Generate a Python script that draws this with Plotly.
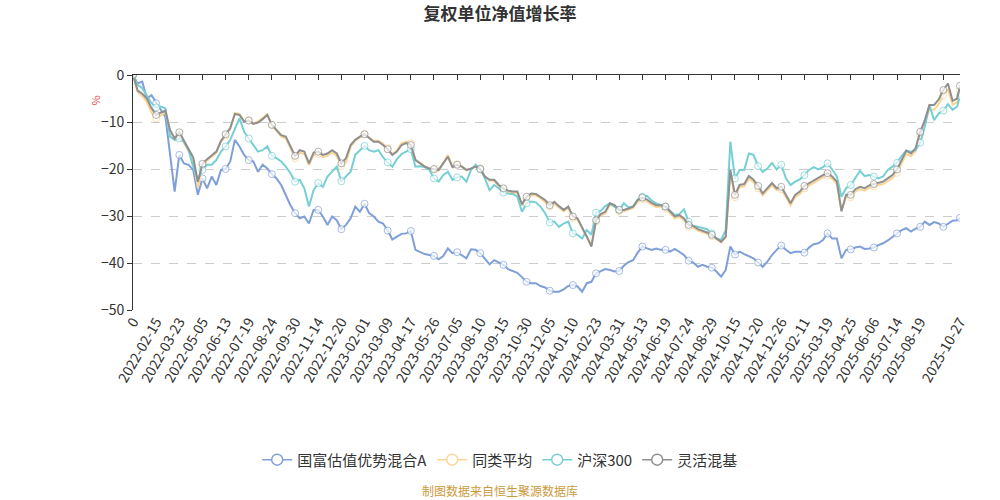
import plotly.graph_objects as go

# 交易日序号(每5个交易日取一个点) + 最后一天
idx = list(range(0, 891, 5)) + [893]

# 横轴标签(每25个交易日一个, 外加最后一天)
tick_idx = list(range(0, 851, 25)) + [893]
tick_text = ['0', '2022-02-15', '2022-03-23', '2022-05-05', '2022-06-13', '2022-07-19',
             '2022-08-24', '2022-09-30', '2022-11-14', '2022-12-20', '2023-02-01',
             '2023-03-09', '2023-04-17', '2023-05-26', '2023-07-05', '2023-08-10',
             '2023-09-15', '2023-10-30', '2023-12-05', '2024-01-10', '2024-02-23',
             '2024-03-31', '2024-05-13', '2024-06-19', '2024-07-24', '2024-08-29',
             '2024-10-15', '2024-11-20', '2024-12-26', '2025-02-11', '2025-03-19',
             '2025-04-25', '2025-06-06', '2025-07-14', '2025-08-19', '2025-10-27']

fund = [0, -1.8, -1.4, -5.0, -4.3,
        -6.0, -7.4, -8.9, -16.7, -24.8,
        -17.0, -18.8, -19.1, -20.2, -25.5,
        -22.0, -24.1, -21.6, -23.4, -20.2,
        -20.0, -18.4, -13.8, -15.2, -17.0,
        -18.1, -18.4, -20.6, -19.1, -19.9,
        -21.1, -22.0, -23.4, -25.5, -27.7,
        -29.4, -30.5, -30.1, -31.6, -28.7,
        -28.7, -30.1, -31.9, -30.1, -30.9,
        -32.8, -31.9, -30.5, -28.0, -29.1,
        -27.4, -29.4, -30.1, -31.2, -31.6,
        -33.1, -35.0, -34.4, -33.8, -33.7,
        -33.2, -37.2, -37.6, -38.1, -38.3,
        -38.5, -39.2, -38.5, -36.9, -37.9,
        -37.7, -38.3, -39.0, -37.1, -37.2,
        -37.9, -39.2, -40.3, -39.4, -39.9,
        -40.4, -41.3, -41.7, -42.1, -43.0,
        -44.0, -44.3, -44.3, -44.9, -45.2,
        -45.9, -46.1, -46.1, -45.6, -44.9,
        -44.7, -45.0, -46.1, -44.3, -44.0,
        -42.2, -41.8, -41.3, -41.5, -41.8,
        -41.7, -40.6, -39.8, -39.4, -37.8,
        -36.5, -36.9, -37.2, -36.9, -37.2,
        -37.2, -37.6, -37.0, -37.6, -38.3,
        -39.5, -39.9, -40.8, -40.4, -40.8,
        -41.0, -41.8, -42.9, -41.5, -36.5,
        -38.2, -37.6, -38.1, -38.5, -39.0,
        -39.9, -40.8, -39.7, -38.3, -37.2,
        -36.3, -37.2, -37.9, -37.6, -37.6,
        -37.8, -36.7, -36.0, -35.8, -35.1,
        -33.7, -34.8, -34.8, -39.0, -37.2,
        -37.1, -36.7, -36.5, -37.0, -36.9,
        -36.7, -36.2, -35.8, -35.2, -34.5,
        -33.7, -33.0, -32.6, -33.3, -32.7,
        -32.3, -31.2, -31.9, -31.3, -31.6,
        -32.3, -31.6, -31.0, -30.9,
        -30.4]

peer_avg = [0, -3.6, -4.5, -5.8, -8.0,
            -9.2, -8.6, -8.0, -12.0, -13.8,
            -12.6, -14.3, -16.0, -18.0, -24.0,
            -19.4, -18.2, -17.3, -16.5, -14.3,
            -12.9, -11.5, -8.1, -8.3, -9.8,
            -9.6, -10.3, -9.9, -9.1, -8.3,
            -10.7, -11.9, -13.1, -13.5, -15.6,
            -17.7, -16.5, -16.8, -19.2, -17.0,
            -16.8, -17.5, -17.2, -16.5, -17.2,
            -19.4, -18.5, -15.3, -14.0, -13.2,
            -12.6, -13.3, -14.0, -14.0, -14.6,
            -15.6, -16.9, -16.0, -14.5, -14.2,
            -14.5, -18.0, -18.8, -19.4, -19.9,
            -20.1, -20.4, -18.6, -17.0, -19.5,
            -19.0, -19.4, -20.3, -20.0, -19.4,
            -19.8, -21.6, -22.5, -22.5, -23.6,
            -24.3, -24.9, -25.1, -25.1, -27.8,
            -26.3, -25.6, -25.6, -26.2, -27.0,
            -28.0, -27.4, -28.3, -29.0, -28.3,
            -30.4, -30.8, -32.6, -34.6, -36.2,
            -31.2, -29.9, -29.4, -27.6, -28.0,
            -29.0, -29.0, -28.7, -28.3, -27.0,
            -26.4, -26.9, -27.6, -28.1, -28.0,
            -28.4, -29.5, -30.5, -30.2, -30.9,
            -32.3, -32.5, -33.1, -33.4, -33.8,
            -34.3, -35.0, -35.6, -34.6, -20.6,
            -26.0, -23.9, -23.7, -22.0, -22.8,
            -24.1, -25.6, -24.5, -23.4, -24.5,
            -24.3, -26.0, -27.7, -26.0, -25.3,
            -24.1, -23.5, -23.0, -22.3, -21.8,
            -21.4, -22.1, -23.2, -28.8, -25.9,
            -26.0, -24.8, -24.3, -24.6, -24.0,
            -23.7, -23.5, -23.2, -22.6, -21.9,
            -20.8, -18.8, -16.8, -17.3, -16.2,
            -12.8, -10.3, -7.4, -7.4, -6.2,
            -4.3, -3.0, -6.3, -5.8,
            -3.3]

hs300 = [0, -2.1, -2.8, -4.3, -6.0,
         -6.9, -6.7, -7.1, -13.1, -13.8,
         -13.5, -14.2, -16.0, -19.5, -22.3,
         -20.2, -19.1, -19.1, -18.1, -16.3,
         -15.2, -13.8, -11.3, -9.2, -12.1,
         -13.5, -14.9, -16.3, -16.0, -15.2,
         -17.2, -17.7, -18.4, -19.5, -20.9,
         -22.7, -22.3, -24.1, -28.0, -24.5,
         -23.0, -23.8, -21.6, -20.6, -19.5,
         -22.6, -21.6, -20.6, -17.0, -16.0,
         -15.1, -16.0, -16.3, -16.0, -17.5,
         -18.6, -19.5, -17.9, -16.8, -16.3,
         -15.8, -19.5, -19.4, -19.6, -20.2,
         -22.0, -22.7, -21.3, -20.6, -22.3,
         -21.8, -21.6, -22.7, -20.2, -19.1,
         -20.0, -22.0, -24.5, -23.4, -24.1,
         -25.0, -25.2, -25.3, -25.9, -29.1,
         -27.3, -26.9, -27.1, -28.0, -29.4,
         -31.4, -31.2, -32.3, -31.6, -31.2,
         -33.7, -34.0, -34.8, -33.0, -34.0,
         -29.3, -28.9, -27.9, -27.3, -28.0,
         -28.7, -27.3, -28.2, -28.0, -26.5,
         -25.9, -25.7, -26.7, -27.3, -27.7,
         -28.0, -28.9, -29.8, -29.6, -28.6,
         -31.2, -32.1, -32.3, -32.6, -32.8,
         -33.7, -34.8, -35.1, -33.0, -14.2,
         -22.0, -20.2, -20.2, -16.7, -17.0,
         -19.4, -20.6, -19.9, -18.7, -20.1,
         -19.1, -22.0, -23.4, -22.7, -22.2,
         -21.3, -20.2, -19.6, -20.1, -19.6,
         -18.8, -20.1, -21.6, -25.9, -24.1,
         -23.4, -21.8, -20.4, -21.5, -21.3,
         -21.6, -22.0, -21.6, -20.2, -19.5,
         -18.7, -17.2, -16.1, -16.3, -16.0,
         -14.4, -11.0, -6.4, -9.6, -8.2,
         -7.6, -6.2, -7.4, -6.7,
         -4.4]

flex_mix = [0, -3.3, -4.0, -5.0, -7.1,
            -8.5, -8.0, -7.6, -11.7, -13.5,
            -12.2, -14.0, -15.6, -17.5, -22.7,
            -18.9, -17.9, -17.0, -16.3, -14.0,
            -12.6, -11.3, -8.3, -8.5, -9.9,
            -9.7, -10.4, -10.1, -9.4, -8.5,
            -10.6, -11.7, -12.8, -13.1, -15.1,
            -17.2, -16.0, -16.3, -18.8, -16.5,
            -16.3, -17.0, -16.7, -16.0, -16.7,
            -18.8, -17.7, -14.9, -13.8, -13.1,
            -12.6, -13.5, -14.2, -14.2, -14.9,
            -15.8, -17.0, -16.3, -14.9, -14.5,
            -14.9, -18.1, -18.8, -19.5, -19.9,
            -20.0, -20.2, -18.8, -17.4, -19.6,
            -19.1, -19.5, -20.2, -19.9, -19.5,
            -20.0, -21.6, -22.3, -22.3, -23.4,
            -24.1, -24.6, -24.8, -24.8, -27.5,
            -25.9, -25.2, -25.3, -25.9, -26.6,
            -27.7, -27.0, -27.9, -28.7, -28.0,
            -30.1, -30.5, -32.3, -34.4, -36.5,
            -30.9, -29.6, -29.1, -27.3, -27.7,
            -28.7, -28.7, -28.4, -28.0, -26.6,
            -26.1, -26.5, -27.2, -27.7, -27.7,
            -28.0, -29.1, -30.1, -29.8, -30.5,
            -31.9, -32.1, -32.8, -33.1, -33.5,
            -34.0, -34.8, -35.5, -34.4, -20.2,
            -25.5, -23.4, -23.2, -21.5, -22.3,
            -23.6, -25.2, -24.1, -23.0, -24.1,
            -23.8, -25.5, -27.3, -25.5, -24.8,
            -23.6, -23.0, -22.5, -21.8, -21.3,
            -20.9, -21.6, -22.7, -29.0, -25.5,
            -25.5, -24.3, -23.8, -24.1, -23.5,
            -23.2, -23.0, -22.7, -22.0, -21.3,
            -20.1, -18.1, -16.1, -16.7, -15.6,
            -12.1, -9.6, -6.4, -6.4, -5.2,
            -3.2, -1.8, -5.5, -5.0,
            -2.3]

series = [('国富估值优势混合A', fund, '#7f9fd9'),
          ('同类平均', peer_avg, '#fcd595'),
          ('沪深300', hs300, '#76cfd5'),
          ('灵活混基', flex_mix, '#8f8f8f')]

FONT = 'Noto Sans CJK SC'

# 只在有标签的位置画空心圆点
sizes = [7 if (i % 25 == 0 or i == idx[-1]) else 0 for i in idx]

fig = go.Figure()
for name, vals, color in series:
    fig.add_trace(go.Scatter(
        x=idx, y=vals, name=name, mode='lines+markers', showlegend=False,
        line=dict(color=color, width=2),
        marker=dict(size=sizes, color='white', line=dict(color=color, width=1)),
    ))

# 图例专用(空心圆 + 细线)
for name, vals, color in series:
    fig.add_trace(go.Scatter(
        x=[None], y=[None], name=name, mode='lines+markers',
        line=dict(color=color, width=1.5),
        marker=dict(size=11, color='white', line=dict(color=color, width=1.5)),
    ))

# 顶部的轴线和刻度(0 线)
fig.add_trace(go.Scatter(x=[0, idx[-1]], y=[0, 0], xaxis='x2', mode='lines',
                         line=dict(width=0), showlegend=False, hoverinfo='skip'))

fig.update_layout(
    width=1000, height=500,
    margin=dict(l=133, r=40, t=75, b=190),
    paper_bgcolor='white', plot_bgcolor='white',
    font=dict(family=FONT, color='#333', size=14),
    title=dict(text='复权单位净值增长率', x=0.5, xanchor='center', y=0.972, yanchor='middle',
               font=dict(family=FONT, size=17, color='#333', weight='bold')),
    xaxis=dict(range=[0, idx[-1]], tickmode='array', tickvals=tick_idx, ticktext=tick_text,
               tickangle=-60, tickfont=dict(size=14, color='#333'), showgrid=False,
               zeroline=False, showline=False, ticks=''),
    xaxis2=dict(range=[0, idx[-1]], overlaying='x', side='top', anchor='y',
                tickmode='array', tickvals=list(range(0, 876, 25)) + [893],
                ticks='inside', ticklen=5, tickcolor='#333', showticklabels=False,
                showline=True, linecolor='#333', linewidth=1, showgrid=False, zeroline=False),
    yaxis=dict(range=[-50, 0], tickvals=[0, -10, -20, -30, -40, -50],
               ticks='outside', ticklen=5, tickcolor='#333', showline=True,
               linecolor='#333', linewidth=1, gridcolor='#cccccc', griddash='dash',
               zeroline=False, tickfont=dict(size=14, color='#333')),
    legend=dict(orientation='h', x=0.444, xanchor='center', y=-0.638, yanchor='middle',
                font=dict(size=15, color='#333'), itemwidth=30),
    showlegend=True,
)

fig.add_annotation(text='%', xref='paper', yref='paper', x=-0.046, y=0.891,
                   xanchor='center', yanchor='middle', showarrow=False,
                   textangle=-90, font=dict(size=11, color='#f04848'))
fig.add_annotation(text='制图数据来自恒生聚源数据库', xref='paper', yref='paper',
                   x=0.444, y=-0.768, showarrow=False, xanchor='center', yanchor='middle',
                   font=dict(size=12, color='#cc9a3c'))

# 去掉页面 body 的默认边距, 让画布正好占满窗口; 不显示工具栏
fig.write_html('out.html', config={'displayModeBar': False},
               post_script="document.body.style.margin='0px';")
